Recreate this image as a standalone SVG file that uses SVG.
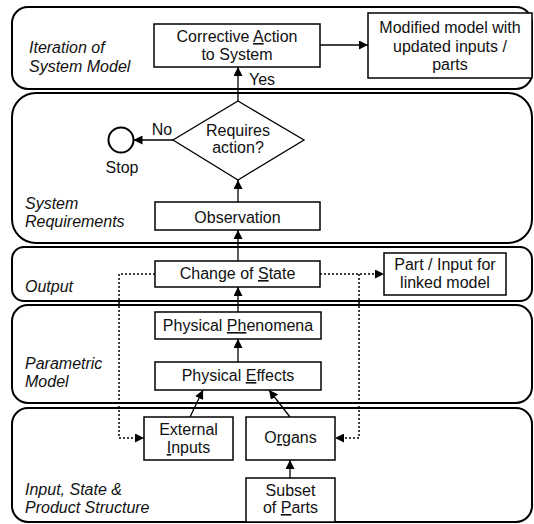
<svg xmlns="http://www.w3.org/2000/svg" width="534" height="524" viewBox="0 0 534 524">
<style>
.panel{fill:none;stroke:#000;stroke-width:2}
.box{fill:#fff;stroke:#000;stroke-width:1.5}
.t{font-family:"Liberation Sans",Arial,sans-serif;font-size:16px;fill:#111;text-anchor:middle}
.lab{font-family:"Liberation Sans",Arial,sans-serif;font-size:16px;fill:#111;font-style:italic}
.u{text-decoration:underline}
.c{fill:none;stroke:#000;stroke-width:1.3}
.d{fill:none;stroke:#000;stroke-width:1.5;stroke-dasharray:2,2}
</style>
<defs>
<marker id="ah" viewBox="0 0 10 10" refX="10" refY="5" markerWidth="9" markerHeight="9" markerUnits="userSpaceOnUse" orient="auto">
<path d="M0,0 L10,5 L0,10 z" fill="#000"/>
</marker>
</defs>
<rect width="534" height="524" fill="#fff"/>
<g id="panels">
<g id="panel-iteration"><rect class="panel" x="12" y="7" width="520" height="82" rx="16"/><text class="lab" x="29" y="53">Iteration of</text><text class="lab" x="29" y="72">System Model</text></g>
<g id="panel-requirements"><rect class="panel" x="12" y="93" width="520" height="150" rx="24"/><text class="lab" x="25" y="209">System</text><text class="lab" x="25" y="227">Requirements</text></g>
<g id="panel-output"><rect class="panel" x="12" y="247" width="520" height="54" rx="12"/><text class="lab" x="25" y="292">Output</text></g>
<g id="panel-parametric"><rect class="panel" x="12" y="305" width="520" height="98" rx="16"/><text class="lab" x="25" y="369">Parametric</text><text class="lab" x="25" y="387">Model</text></g>
<g id="panel-input"><rect class="panel" x="12" y="408" width="520" height="114" rx="16"/><text class="lab" x="25" y="495">Input, State &amp;</text><text class="lab" x="25" y="513">Product Structure</text></g>
</g>
<g id="connectors">
<line class="c" x1="320" y1="45" x2="368" y2="45" marker-end="url(#ah)"/>
<line class="c" x1="238" y1="101" x2="238" y2="67" marker-end="url(#ah)"/>
<line class="c" x1="173" y1="140" x2="133.5" y2="140" marker-end="url(#ah)"/>
<line class="c" x1="238" y1="202" x2="238" y2="180" marker-end="url(#ah)"/>
<line class="c" x1="238" y1="261" x2="238" y2="230" marker-end="url(#ah)"/>
<line class="c" x1="238" y1="312" x2="238" y2="287" marker-end="url(#ah)"/>
<line class="c" x1="238" y1="362" x2="238" y2="339" marker-end="url(#ah)"/>
<line class="c" x1="190" y1="417" x2="203" y2="390" marker-end="url(#ah)"/>
<line class="c" x1="290" y1="417" x2="269" y2="390" marker-end="url(#ah)"/>
<line class="c" x1="290" y1="478" x2="290" y2="460" marker-end="url(#ah)"/>
<path class="d" d="M320,274 H384" marker-end="url(#ah)"/>
<path class="d" d="M359,274 V438 H335" marker-end="url(#ah)"/>
<path class="d" d="M155,274 H119 V438 H144" marker-end="url(#ah)"/>
<text class="t" x="262" y="85">Yes</text>
<text class="t" x="162" y="135">No</text>
</g>
<g id="corrective"><rect class="box" x="154" y="24" width="166" height="43"/><text class="t" x="237" y="42">Corrective <tspan class="u">A</tspan>ction</text><text class="t" x="237" y="60">to System</text></g>
<g id="modified"><rect class="box" x="368" y="13" width="164" height="65"/><text class="t" x="450" y="33">Modified model with</text><text class="t" x="450" y="51.5">updated inputs /</text><text class="t" x="450" y="70">parts</text></g>
<g id="decision"><polygon fill="#fff" stroke="#000" stroke-width="1.3" points="238,101 304,140 238,180 173,140"/><text class="t" x="238" y="136">Requires</text><text class="t" x="238" y="153">action?</text></g>
<g id="stop"><circle cx="121" cy="140" r="12.5" fill="#fff" stroke="#000" stroke-width="2"/><text class="t" x="122" y="173">Stop</text></g>
<g id="observation"><rect class="box" x="155" y="202" width="165" height="28"/><text class="t" x="237.5" y="223">Observation</text></g>
<g id="change-of-state"><rect class="box" x="155" y="261" width="165" height="26"/><text class="t" x="237.5" y="279">Change of <tspan class="u">S</tspan>tate</text></g>
<g id="part-input"><rect class="box" x="384" y="253" width="122" height="42"/><text class="t" x="445" y="270">Part / Input for</text><text class="t" x="445" y="288">linked model</text></g>
<g id="phenomena"><rect class="box" x="155" y="312" width="166" height="27"/><text class="t" x="238" y="331">Physical <tspan class="u">Ph</tspan>enomena</text></g>
<g id="effects"><rect class="box" x="155" y="362" width="166" height="28"/><text class="t" x="238" y="381">Physical <tspan class="u">E</tspan>ffects</text></g>
<g id="external-inputs"><rect class="box" x="144" y="417" width="89" height="43"/><text class="t" x="188.5" y="435">External</text><text class="t" x="188.5" y="453"><tspan class="u">I</tspan>nputs</text></g>
<g id="organs"><rect class="box" x="246" y="417" width="89" height="43"/><text class="t" x="290.5" y="443">O<tspan class="u">r</tspan>gans</text></g>
<g id="subset"><rect class="box" x="246" y="478" width="89" height="44"/><text class="t" x="290.5" y="496">Subset</text><text class="t" x="290.5" y="513">of <tspan class="u">P</tspan>arts</text></g>
</svg>
